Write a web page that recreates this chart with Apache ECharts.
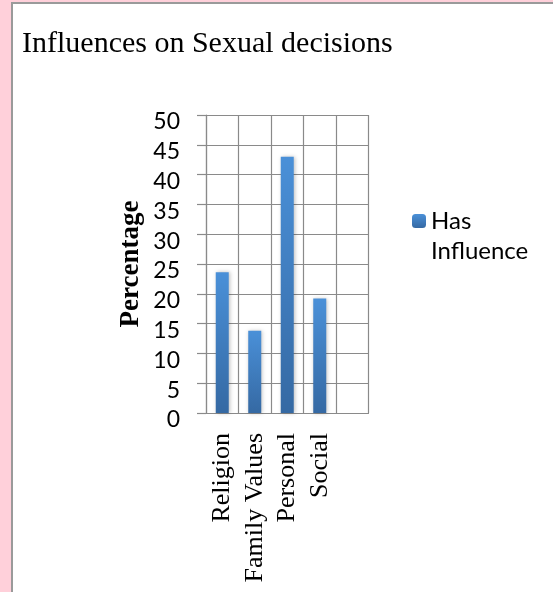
<!DOCTYPE html>
<html>
<head>
<meta charset="utf-8">
<script src="https://cdn.jsdelivr.net/npm/echarts@6/dist/echarts.min.js"></script>
<style>
  html, body { margin: 0; padding: 0; background: #ffd0da; width: 553px; height: 592px; overflow: hidden; }
  #chart {
    position: absolute; left: 11px; top: 2px;
    width: 542px; height: 590px;
    border-left: 2px solid #9a9a9a; border-top: 2px solid #9a9a9a;
    background: #fff;
  }
</style>
</head>
<body>
<div id="chart"></div>
<script>
// categories (last column is empty in the original)
const categories = ['Religion', 'Family Values', 'Personal', 'Social', '']
// percentage that says the factor has influence
const hasInfluence = [23.6, 13.8, 43.0, 19.2, null]
const seriesName = 'Has Influence'

const chart = echarts.init(document.getElementById('chart'))
chart.setOption({
  animation: false,
  title: {
    text: 'Influences on Sexual decisions',
    left: 4,
    top: 20,
    textStyle: {
      fontFamily: 'Liberation Serif',
      fontSize: 30,
      fontWeight: 'normal',
      color: '#000'
    }
  },
  legend: {
    left: 394,
    top: 167,
    itemWidth: 14,
    itemHeight: 14,
    itemGap: 6,
    data: [seriesName],
    // empty first line keeps the icon level with "Has"
    formatter: () => '\nHas\nInfluence',
    textStyle: {
      fontFamily: 'Lato',
      fontSize: 24,
      lineHeight: 30,
      color: '#000'
    }
  },
  grid: {
    left: 193,
    top: 111,
    width: 162.5,
    height: 298
  },
  xAxis: {
    type: 'category',
    data: categories,
    axisLine: { lineStyle: { color: '#8a8a8a', width: 1.2 } },
    axisTick: { show: false },
    splitLine: { show: true, lineStyle: { color: '#8a8a8a', width: 1.2 } },
    axisLabel: {
      rotate: 90,
      margin: 20,
      interval: 0,
      fontFamily: 'Liberation Serif',
      fontSize: 26,
      color: '#000'
    }
  },
  yAxis: {
    type: 'value',
    min: 0,
    max: 50,
    interval: 5,
    name: 'Percentage',
    nameLocation: 'middle',
    nameGap: 61,
    nameTextStyle: {
      fontFamily: 'Liberation Serif',
      fontSize: 27,
      fontWeight: 'bold',
      color: '#000'
    },
    axisLine: { show: true, lineStyle: { color: '#8a8a8a', width: 1.2 } },
    axisTick: { show: true, length: 9, lineStyle: { color: '#8a8a8a', width: 1.2 } },
    splitLine: { show: true, lineStyle: { color: '#8a8a8a', width: 1.2 } },
    axisLabel: {
      margin: 26,
      fontFamily: 'Lato',
      fontSize: 23,
      color: '#000',
      verticalAlign: 'top',
      lineHeight: 14
    }
  },
  series: [{
    name: seriesName,
    type: 'bar',
    data: hasInfluence,
    barWidth: 13,
    itemStyle: {
      color: new echarts.graphic.LinearGradient(0, 0, 0, 1, [
        { offset: 0, color: '#4a90d8' },
        { offset: 1, color: '#3569a3' }
      ]),
      shadowBlur: 4,
      shadowColor: 'rgba(0,0,0,0.25)',
      shadowOffsetX: 1
    }
  }]
})
</script>
</body>
</html>
